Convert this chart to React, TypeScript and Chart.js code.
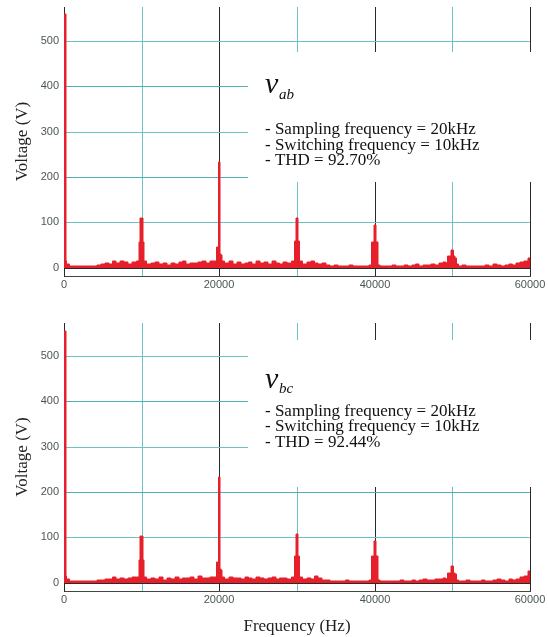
import React, { useEffect, useRef } from 'react';
import { Chart, registerables } from 'chart.js';

Chart.register(...registerables);

// ---------- DATA ----------
const FREQ_STEP = 500; // Hz between noise-floor samples
const X_TICKS = [0, 10000, 20000, 30000, 40000, 50000, 60000];
const Y_TICKS = [0, 100, 200, 300, 400, 500];

// noise floor (V) sampled every 500 Hz, 0..60000 Hz
const TOP_NOISE = [
  8,
  6, 5, 4, 5, 4, 3, 4, 5, 6,
  8, 11, 9, 14, 10, 16, 12, 9, 13, 11,
  10,
  12, 9, 10, 13, 8, 11, 7, 10, 9, 12, 14, 8, 11, 10, 13, 15, 11, 16, 12,
  14,
  13, 10, 14, 9, 12, 8, 11, 13, 9, 15, 10, 12, 8, 14, 11, 9, 12, 10, 13,
  12,
  11, 9, 12, 15, 10, 8, 11, 6, 5, 7, 4, 5, 4, 6, 4, 5, 3, 4, 6,
  6,
  4, 5, 3, 4, 6, 5, 4, 7, 5, 6, 8, 5, 7, 6, 9, 7, 10, 12, 11,
  10,
  8, 5, 6, 4, 5, 3, 5, 4, 6, 5, 8, 6, 5, 7, 9, 6, 10, 13, 16,
  22,
];
const BOTTOM_NOISE = [
  8,
  5, 4, 5, 3, 4, 4, 5, 4, 6,
  7, 9, 8, 12, 9, 11, 8, 10, 12, 9,
  10,
  10, 8, 11, 9, 12, 7, 10, 9, 13, 8, 11, 10, 12, 9, 15, 11, 10, 13, 10,
  12,
  14, 9, 12, 10, 11, 8, 13, 10, 9, 12, 11, 8, 10, 13, 9, 11, 10, 9, 12,
  11,
  10, 8, 11, 9, 14, 10, 7, 6, 5, 4, 5, 4, 6, 4, 5, 4, 3, 5, 6,
  6,
  4, 3, 5, 4, 5, 4, 6, 4, 5, 7, 5, 6, 8, 6, 7, 9, 8, 10, 12,
  10,
  7, 5, 4, 6, 4, 5, 4, 6, 5, 4, 7, 9, 6, 5, 8, 6, 9, 12, 15,
  25,
];

// harmonic spikes (Hz, V)
const TOP_SPIKE_FREQ = [
  0, 250, 300, 450,
  9650, 9690, 9820, 9840, 10160, 10180, 10310, 10350,
  19600, 19650, 19880, 19900, 20080, 20100, 20350, 20400,
  29650, 29700, 29840, 29860, 30140, 30160, 30280, 30330,
  39550, 39600, 39850, 39870, 40130, 40150, 40400, 40450,
  49350, 49400, 49800, 49850, 50150, 50200, 50500, 50550,
];
const TOP_SPIKE_VOLT = [
  560, 560, 15, 8,
  14, 58, 58, 110, 110, 58, 58, 14,
  14, 45, 45, 234, 234, 30, 28, 14,
  14, 60, 60, 110, 110, 60, 60, 14,
  6, 58, 58, 94, 94, 58, 58, 6,
  10, 25, 25, 39, 39, 25, 22, 8,
];
const BOTTOM_SPIKE_FREQ = [
  0, 250, 300, 450,
  9650, 9690, 9820, 9840, 10160, 10180, 10310, 10350,
  19600, 19650, 19880, 19900, 20080, 20100, 20350, 20400,
  29650, 29700, 29840, 29860, 30140, 30160, 30280, 30330,
  39550, 39600, 39850, 39870, 40130, 40150, 40400, 40450,
  49350, 49400, 49800, 49850, 50150, 50200, 50500, 50550,
];
const BOTTOM_SPIKE_VOLT = [
  555, 555, 14, 8,
  12, 50, 50, 103, 103, 50, 50, 12,
  12, 45, 45, 232, 232, 30, 28, 12,
  12, 58, 58, 108, 108, 58, 58, 12,
  6, 60, 60, 93, 93, 60, 60, 6,
  8, 22, 22, 36, 36, 22, 20, 7,
];

const TOP_LABEL_SUB = 'ab';
const BOTTOM_LABEL_SUB = 'bc';
const TOP_LINES = ['- Sampling frequency = 20kHz', '- Switching frequency = 10kHz', '- THD = 92.70%'];
const BOTTOM_LINES = ['- Sampling frequency = 20kHz', '- Switching frequency = 10kHz', '- THD = 92.44%'];
const Y_TITLE = 'Voltage (V)';
const X_TITLE = 'Frequency (Hz)';

// ---------- STYLE ----------
const RED = '#e5202a';
const TEAL = '#6cc3c3';
const TEAL_DARK = '#4fb0b2';
const DARK = '#2a2a2a';
const TICK_COLOR = '#4a5656';

function buildPoints(noise: number[], sf: number[], sv: number[]) {
  const pts: { x: number; y: number }[] = [];
  noise.forEach((v, i) => {
    const f = i * FREQ_STEP;
    if (sf.some((s) => Math.abs(s - f) < 250)) return;
    pts.push({ x: f, y: v });
  });
  sf.forEach((f, i) => pts.push({ x: f, y: sv[i] }));
  pts.sort((a, b) => a.x - b.x);
  return pts;
}

type Ann = {
  box: [number, number, number, number];
  sub: string;
  lines: string[];
  v: [number, number];
  s: [number, number];
  lx: number;
  ly: number[];
};

function makeConfig(points: any[], yMax: number, padTop: number, xHeight: number, showXTitle: boolean, ann: Ann): any {
  const annPlugin = {
    id: 'ann',
    beforeDatasetsDraw(chart: any) {
      const ctx = chart.ctx;
      ctx.save();
      ctx.fillStyle = '#ffffff';
      ctx.fillRect(ann.box[0], ann.box[1], ann.box[2], ann.box[3]);
      ctx.fillStyle = '#111111';
      ctx.textBaseline = 'alphabetic';
      ctx.textAlign = 'left';
      ctx.font = 'italic 30px "Liberation Serif"';
      ctx.fillText('v', ann.v[0], ann.v[1]);
      ctx.font = 'italic 15px "Liberation Serif"';
      ctx.fillText(ann.sub, ann.s[0], ann.s[1]);
      ctx.font = '17px "Liberation Serif"';
      ann.lines.forEach((t, i) => ctx.fillText(t, ann.lx, ann.ly[i]));
      ctx.restore();
    },
  };
  return {
    type: 'line',
    data: {
      datasets: [
        {
          data: points,
          borderColor: RED,
          backgroundColor: RED,
          borderWidth: 1,
          fill: 'origin',
          pointRadius: 0,
          stepped: 'middle',
        },
      ],
    },
    options: {
      animation: false,
      responsive: false,
      events: [],
      layout: { padding: { left: 0, right: 18, top: padTop, bottom: 0 } },
      plugins: { legend: { display: false }, tooltip: { enabled: false } },
      scales: {
        x: {
          type: 'linear',
          min: 0,
          max: 60000,
          alignToPixels: true,
          afterBuildTicks: (s: any) => {
            s.ticks = X_TICKS.map((v) => ({ value: v }));
          },
          afterFit: (s: any) => {
            s.height = xHeight;
          },
          ticks: {
            autoSkip: false,
            maxRotation: 0,
            padding: 2,
            color: TICK_COLOR,
            font: { family: '"Liberation Sans"', size: 11 },
            callback: (v: number) => (v % 20000 === 0 ? String(v) : ''),
          },
          grid: {
            drawTicks: false,
            color: (c: any) => (c.tick && c.tick.value % 20000 === 0 ? DARK : TEAL),
            lineWidth: 1,
          },
          border: { display: true, color: '#444', width: 1 },
          title: {
            display: showXTitle,
            text: X_TITLE,
            color: '#222',
            font: { family: '"Liberation Serif"', size: 17 },
            padding: { top: 0, bottom: 0 },
          },
        },
        y: {
          type: 'linear',
          min: -18,
          max: yMax,
          alignToPixels: true,
          afterBuildTicks: (s: any) => {
            s.ticks = Y_TICKS.map((v) => ({ value: v }));
          },
          afterFit: (s: any) => {
            s.width = 64;
            s.paddingTop = 0;
            s.paddingBottom = 0;
          },
          ticks: {
            padding: 5,
            color: TICK_COLOR,
            font: { family: '"Liberation Sans"', size: 11 },
          },
          grid: {
            drawTicks: false,
            color: (c: any) =>
              c.tick && c.tick.value === 0 ? DARK : c.tick && c.tick.value % 200 === 0 ? TEAL_DARK : TEAL,
            lineWidth: 1,
          },
          border: { display: true, color: DARK, width: 1 },
          title: {
            display: true,
            text: Y_TITLE,
            color: '#222',
            font: { family: '"Liberation Serif"', size: 17 },
            padding: { top: 12, bottom: 0 },
          },
        },
      },
    },
    plugins: [annPlugin],
  };
}

export default function App() {
  const topRef = useRef<HTMLCanvasElement>(null);
  const botRef = useRef<HTMLCanvasElement>(null);

  useEffect(() => {
    document.body.style.margin = '0';
    const topPts = buildPoints(TOP_NOISE, TOP_SPIKE_FREQ, TOP_SPIKE_VOLT);
    const botPts = buildPoints(BOTTOM_NOISE, BOTTOM_SPIKE_FREQ, BOTTOM_SPIKE_VOLT);
    const c1 = new Chart(
      topRef.current as HTMLCanvasElement,
      makeConfig(topPts, 575, 7, 24, false, {
        box: [248, 52, 300, 130],
        sub: TOP_LABEL_SUB,
        lines: TOP_LINES,
        v: [265, 93],
        s: [279, 99],
        lx: 265,
        ly: [134, 149.5, 165],
      })
    );
    const c2 = new Chart(
      botRef.current as HTMLCanvasElement,
      makeConfig(botPts, 572, 23, 46, true, {
        box: [248, 40, 300, 147],
        sub: BOTTOM_LABEL_SUB,
        lines: BOTTOM_LINES,
        v: [265, 88],
        s: [279, 93],
        lx: 265,
        ly: [116, 131, 147],
      })
    );
    return () => {
      c1.destroy();
      c2.destroy();
    };
  }, []);

  return (
    <div style={{ position: 'relative', width: 548, height: 637, background: '#fff' }}>
      <canvas ref={topRef} width={548} height={300} style={{ position: 'absolute', left: 0, top: 0 }} />
      <canvas ref={botRef} width={548} height={337} style={{ position: 'absolute', left: 0, top: 300 }} />
    </div>
  );
}
